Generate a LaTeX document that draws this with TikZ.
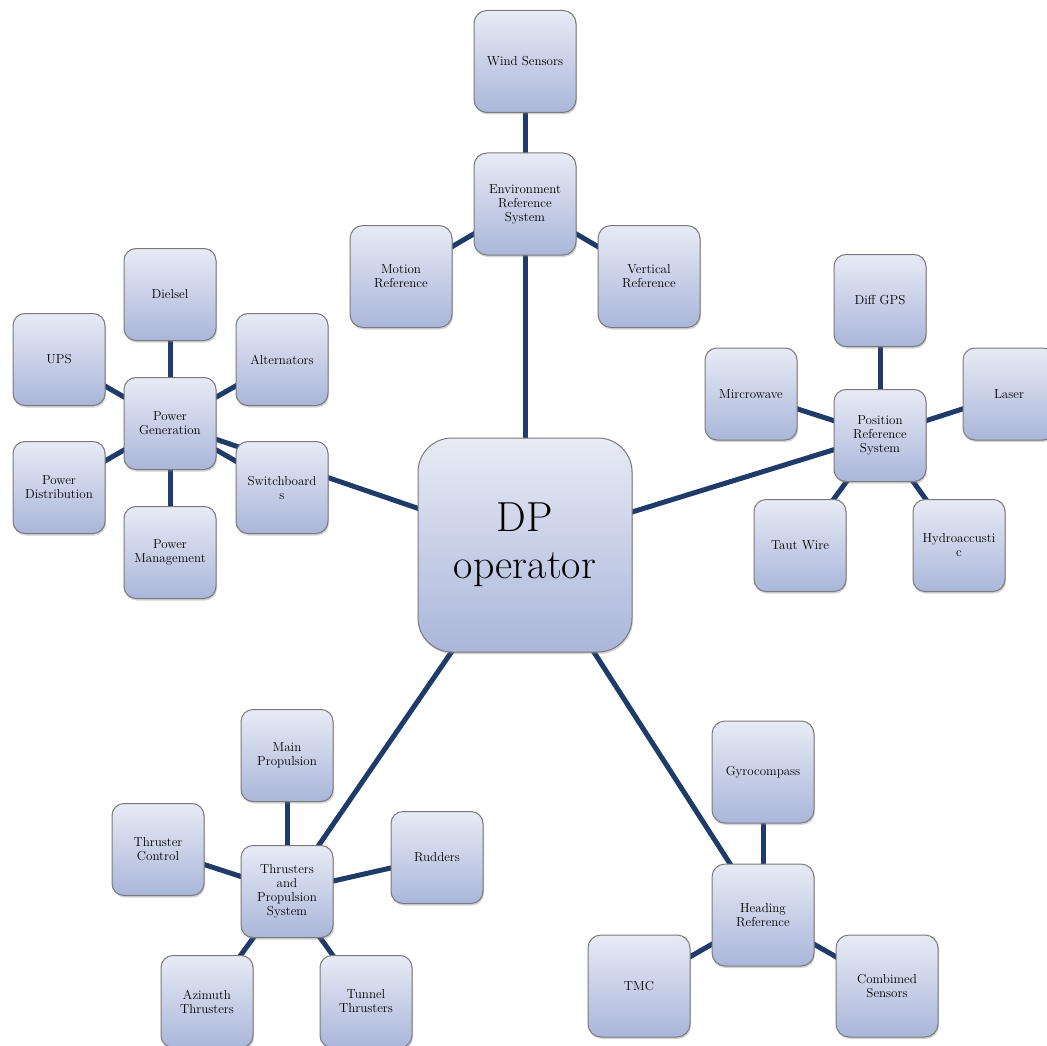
\documentclass[tikz,border=0pt]{standalone}
\usepackage{tikz}
\usepackage{xcolor}
\usetikzlibrary{shadows, backgrounds, calc}
\definecolor{t1}{HTML}{E8EBF5}
\definecolor{b1}{HTML}{AAB6DA}
\definecolor{bd}{HTML}{7A7A7A}
\definecolor{ln}{HTML}{1F3B69}
\tikzset{
    box/.style={
        draw=bd, line width=1pt, rounded corners=12pt,
        top color=t1, bottom color=b1,
        minimum width=92pt, minimum height=92pt,
        inner sep=0pt, align=center,
        font=\fontsize{13}{14}\selectfont,
        drop shadow={opacity=0.35, shadow xshift=1pt, shadow yshift=-2pt}
    },
    wbox/.style={box, minimum width=102pt, minimum height=102pt, rounded corners=13pt},
    hub/.style={box, minimum width=214pt, minimum height=214pt, rounded corners=34pt,
        font=\fontsize{42}{47}\selectfont},
    link/.style={ln, line width=5pt}
}
\begin{document}
\begin{tikzpicture}[x=1pt, y=-1pt]
\useasboundingbox (0,0) rectangle (1047,1046);
% centre
\node[hub] (dp) at (525,545) {DP\\operator};
% environment
\node[wbox] (env) at (525,204) {Environment\\Reference\\System};
\node[wbox] (wind) at (525,61.5) {Wind Sensors};
\node[wbox] (motion) at (401,276.5) {Motion\\Reference};
\node[wbox] (vert) at (649,276.5) {Vertical\\Reference};
% power
\node[box] (pgen) at (170,423.5) {Power\\Generation};
\node[box] (diesel) at (170,294.5) {Dielsel};
\node[box] (ups) at (59,359.5) {UPS};
\node[box] (alt) at (282,359.5) {Alternators};
\node[box] (pdist) at (59,487.5) {Power\\Distribution};
\node[box] (swb) at (282,487.5) {Switchboard\\s};
\node[box] (pman) at (170,552.5) {Power\\Management};
% position
\node[box] (prs) at (880,435.5) {Position\\Reference\\System};
\node[box] (gps) at (880,300.5) {Diff GPS};
\node[box] (micro) at (751,394) {Mircrowave};
\node[box] (laser) at (1009,394) {Laser};
\node[box] (taut) at (800,545.5) {Taut Wire};
\node[box] (hydro) at (959,545.5) {Hydroaccusti\\c};
% thrusters
\node[box] (thr) at (287,891.5) {Thrusters\\and\\Propulsion\\System};
\node[box] (mainp) at (287,755.5) {Main\\Propulsion};
\node[box] (tctrl) at (158,849.5) {Thruster\\Control};
\node[box] (rudd) at (437,857.5) {Rudders};
\node[box] (azi) at (207,1001.5) {Azimuth\\Thrusters};
\node[box] (tunn) at (366,1001.5) {Tunnel\\Thrusters};
% heading
\node[wbox] (head) at (763,915) {Heading\\Reference};
\node[wbox] (gyro) at (763,772) {Gyrocompass};
\node[wbox] (tmc) at (639,986) {TMC};
\node[wbox] (comb) at (887,986) {Combimed\\Sensors};
% connectors
\begin{scope}[on background layer]
    \foreach \a/\b in {dp/env, dp/pgen, dp/prs, dp/thr, dp/head,
        env/wind, env/motion, env/vert,
        pgen/diesel, pgen/ups, pgen/alt, pgen/pdist, pgen/swb, pgen/pman,
        prs/gps, prs/micro, prs/laser, prs/taut, prs/hydro,
        thr/mainp, thr/tctrl, thr/rudd, thr/azi, thr/tunn,
        head/gyro, head/tmc, head/comb}
        \draw[link] (\a.center) -- (\b.center);
\end{scope}
\end{tikzpicture}
\end{document}
